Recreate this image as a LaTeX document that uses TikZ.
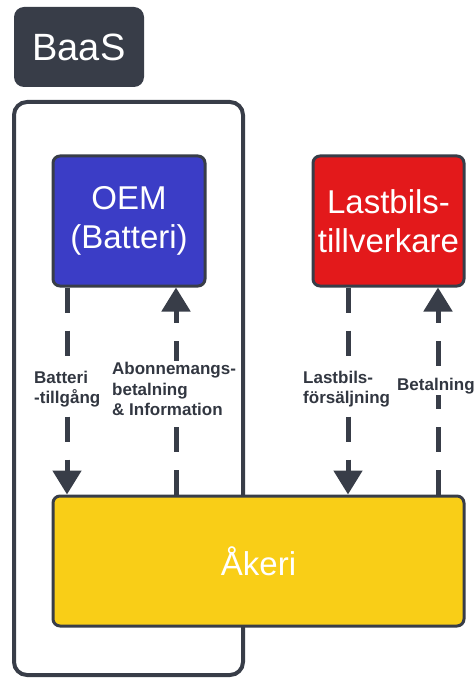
\documentclass[tikz,border=0pt]{standalone}
\usepackage{fontspec}
\setmainfont{Liberation Sans}
\usetikzlibrary{arrows.meta}
\definecolor{slate}{HTML}{383D48}
\definecolor{oemblue}{HTML}{3B3DC6}
\definecolor{truckred}{HTML}{E3191B}
\definecolor{haulyellow}{HTML}{F9CE17}
\begin{document}
\begin{tikzpicture}[x=1pt, y=-1pt,
    box/.style={draw=slate, line width=3pt, rounded corners=7pt, text=white,
                font=\fontsize{33}{39}\selectfont, align=center},
    flow/.style={slate, line width=5pt, dash pattern=on 25pt off 18pt,
                 -{Triangle[width=28pt,length=24pt]}},
    lbl/.style={fill=white, inner sep=1pt, anchor=west, align=left, text=slate!90!black,
                font=\bfseries\fontsize{17}{20.5}\selectfont}]
    \useasboundingbox (0, 0) rectangle (475, 679);
    % BaaS tag and frame
    \node (baas) [fill=slate, rounded corners=10pt, minimum width=130pt, minimum height=80pt,
          text=white, font=\fontsize{38}{40}\selectfont] at (79, 47) {BaaS};
    \draw[slate, line width=4pt, rounded corners=13pt] (14, 102) rectangle (243, 675);
    % boxes
    \node (oem) [box, fill=oemblue, minimum width=152pt, minimum height=130pt] at (129, 221)
          {OEM\\(Batteri)};
    \node (lastbil) [box, fill=truckred, minimum width=151pt, minimum height=130pt] at (388.5, 221)
          {Lastbils-\\tillverkare};
    \node (akeri) [box, fill=haulyellow, minimum width=411pt, minimum height=130pt] at (258.5, 561)
          {Åkeri};
    % arrow positions
    \coordinate (c1) at (67, 0);
    \coordinate (c2) at (176, 0);
    \coordinate (c3) at (348, 0);
    \coordinate (c4) at (438, 0);
    \draw[flow] (oem.south -| c1) -- (akeri.north -| c1);
    \draw[flow] (akeri.north -| c2) -- (oem.south -| c2);
    \draw[flow] (lastbil.south -| c3) -- (akeri.north -| c3);
    \draw[flow] (akeri.north -| c4) -- (lastbil.south -| c4);
    % labels
    \node (l1) [lbl] at (33, 389) {Batteri\\-tillgång};
    \node (l2) [lbl] at (111, 389) {Abonnemangs-\\betalning\\\& Information};
    \node (l3) [lbl] at (302, 389) {Lastbils-\\försäljning};
    \node (l4) [lbl] at (396, 386) {Betalning};
\end{tikzpicture}
\end{document}
